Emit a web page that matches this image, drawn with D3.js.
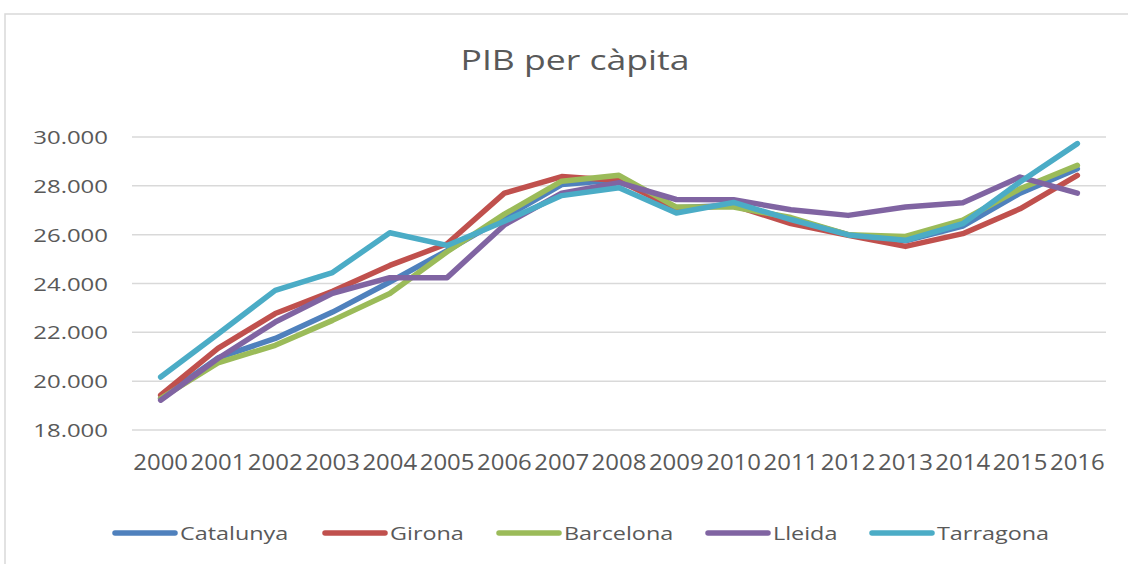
<!DOCTYPE html>
<html>
  <head>
    <meta http-equiv="Content-Type" content="text/html;charset=utf-8"/>
    <script src="https://cdn.jsdelivr.net/npm/d3@7"></script>
    <style type="text/css">
      body { margin: 0; background: #fff; }
      svg text { font-family: "Open Sans", sans-serif; fill: #595959; }
    </style>
  </head>
  <body>
    <div id="chart"></div>
    <script type="text/javascript">
      var years = ["2000","2001","2002","2003","2004","2005","2006","2007","2008",
                   "2009","2010","2011","2012","2013","2014","2015","2016"];
      var yTicks = [18000, 20000, 22000, 24000, 26000, 28000, 30000];
      var seriesNames = ["Catalunya", "Girona", "Barcelona", "Lleida", "Tarragona"];
      var seriesColors = ["#4F81BD", "#C0504D", "#9BBB59", "#8064A2", "#4BACC6"];

      var catalunya = [19300, 20950, 21750, 22830, 24060, 25350, 26700, 28050, 28250,
                       27100, 27200, 26650, 26000, 25750, 26350, 27700, 28700];
      var girona    = [19430, 21340, 22770, 23680, 24740, 25630, 27700, 28380, 28220,
                       27050, 27200, 26450, 25970, 25520, 26040, 27060, 28430];
      var barcelona = [19290, 20750, 21470, 22490, 23590, 25300, 26840, 28190, 28430,
                       27130, 27130, 26700, 26000, 25930, 26590, 27880, 28840];
      var lleida    = [19220, 20930, 22420, 23600, 24240, 24240, 26400, 27700, 28130,
                       27440, 27430, 27020, 26790, 27130, 27310, 28360, 27700];
      var tarragona = [20170, 21930, 23720, 24450, 26080, 25560, 26550, 27600, 27920,
                       26890, 27320, 26620, 25990, 25770, 26450, 28160, 29730];
      var seriesValues = [catalunya, girona, barcelona, lleida, tarragona];

      var W = 1128, H = 564;

      var svg = d3.select('#chart').append('svg')
          .attr('width', W).attr('height', H);

      svg.append('rect').attr('width', W).attr('height', H).attr('fill', '#fff');
      // chart area frame (runs off the right and bottom edges)
      svg.append('rect')
          .attr('x', 5).attr('y', 14).attr('width', W + 20).attr('height', H + 20)
          .attr('fill', 'none').attr('stroke', '#d9d9d9').attr('stroke-width', 1.5);

      var x = d3.scalePoint().domain(years).range([132, 1106]).padding(0.5);
      var y = d3.scaleLinear().domain([18000, 30000]).range([430, 137]);

      // the reference font is wider than Open Sans, so widen the glyphs a bit
      function stretch(k) {
        return function(sel) {
          sel.each(function() {
            var len = this.getComputedTextLength();
            d3.select(this).attr('textLength', len * k)
              .attr('lengthAdjust', 'spacingAndGlyphs');
          });
        };
      }

      // title
      svg.append('text')
          .attr('x', 575).attr('y', 70)
          .attr('text-anchor', 'middle')
          .style('font-size', '28px')
          .text('PIB per càpita')
          .call(stretch(1.27));

      // gridlines
      svg.append('g').selectAll('line')
          .data(yTicks).enter().append('line')
          .attr('x1', 132).attr('x2', 1106)
          .attr('y1', function(d) { return y(d); })
          .attr('y2', function(d) { return y(d); })
          .attr('stroke', '#d9d9d9').attr('stroke-width', 1.5);

      // y axis labels
      svg.append('g').selectAll('text')
          .data(yTicks).enter().append('text')
          .attr('x', 108)
          .attr('y', function(d) { return y(d) + 7; })
          .attr('text-anchor', 'end')
          .style('font-size', '19px')
          .text(function(d) { return (d / 1000).toFixed(3); })
          .call(stretch(1.26));

      // x axis labels
      svg.append('g').selectAll('text')
          .data(years).enter().append('text')
          .attr('x', function(d) { return x(d); })
          .attr('y', 470)
          .attr('text-anchor', 'middle')
          .style('font-size', '21px')
          .text(function(d) { return d; })
          .call(stretch(1.14));

      // lines
      var line = d3.line()
          .x(function(d, i) { return x(years[i]); })
          .y(function(d) { return y(d); });

      svg.append('g').selectAll('path')
          .data(seriesValues).enter().append('path')
          .attr('d', line)
          .attr('fill', 'none')
          .attr('stroke', function(d, i) { return seriesColors[i]; })
          .attr('stroke-width', 5.5)
          .attr('stroke-linecap', 'round')
          .attr('stroke-linejoin', 'round');

      // legend
      var legendX = [115, 325, 499, 708, 872];
      var legend = svg.append('g').selectAll('g')
          .data(seriesNames).enter().append('g')
          .attr('transform', function(d, i) { return 'translate(' + legendX[i] + ',533)'; });
      legend.append('line')
          .attr('x1', 0).attr('x2', 60)
          .attr('stroke', function(d, i) { return seriesColors[i]; })
          .attr('stroke-width', 5.5)
          .attr('stroke-linecap', 'round');
      legend.append('text')
          .attr('x', 65).attr('y', 7)
          .style('font-size', '19px')
          .text(function(d) { return d; })
          .call(stretch(1.23));
    </script>
  </body>
</html>
